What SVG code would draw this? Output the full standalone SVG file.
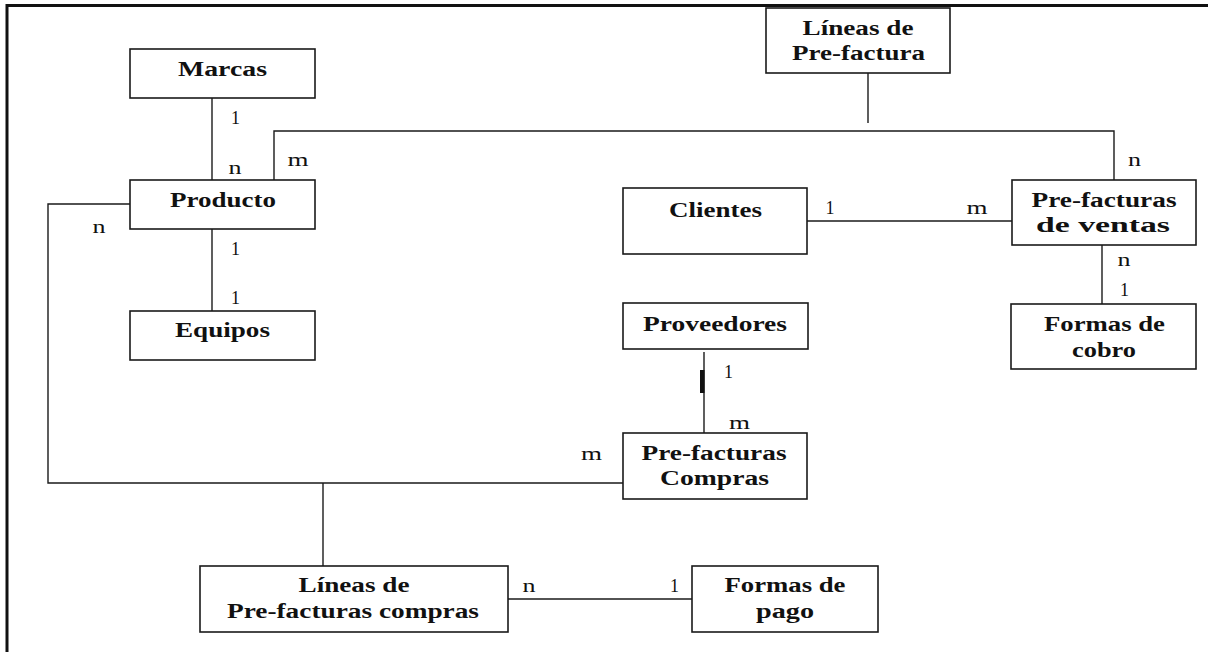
<svg xmlns="http://www.w3.org/2000/svg" width="1208" height="652" viewBox="0 0 1208 652">
<style>
.box{fill:#fff;stroke:#1a1a1a;stroke-width:1.6}
.t{font-family:"Liberation Serif","Times New Roman",serif;font-weight:bold;font-size:20px;fill:#111;text-anchor:middle}
.l{font-family:"Liberation Serif","Times New Roman",serif;font-size:19px;fill:#111}
.c{fill:none;stroke:#1a1a1a;stroke-width:1.4}
</style>
<rect width="1208" height="652" fill="#fff"/>
<g id="frame"><path d="M7,652 V5.5 H1208" fill="none" stroke="#111" stroke-width="3"/></g>
<g id="connectors">
<path class="c" d="M212,98 V180"/>
<path class="c" d="M212,229 V311"/>
<path class="c" d="M274,180 V131 H1114 V180"/>
<path class="c" d="M868,73 V123"/>
<path class="c" d="M130,204 H48 V483 H623"/>
<path class="c" d="M323,483 V566"/>
<path class="c" d="M508,599 H692"/>
<path class="c" d="M807,221 H1012"/>
<path class="c" d="M1102,245 V304"/>
<path class="c" d="M704,352 V433"/>
<rect x="700" y="370" width="4.5" height="23" fill="#111"/>
</g>
<g id="marcas"><rect class="box" x="130" y="49" width="185" height="49"/><text class="t" x="222.5" y="76" textLength="89" lengthAdjust="spacingAndGlyphs">Marcas</text></g>
<g id="producto"><rect class="box" x="130" y="180" width="185" height="49"/><text class="t" x="223" y="207" textLength="106" lengthAdjust="spacingAndGlyphs">Producto</text></g>
<g id="equipos"><rect class="box" x="130" y="311" width="185" height="49"/><text class="t" x="222.5" y="337" textLength="95" lengthAdjust="spacingAndGlyphs">Equipos</text></g>
<g id="lineas-prefactura"><rect class="box" x="766" y="8" width="184" height="65"/><text class="t" x="858" y="35" textLength="111" lengthAdjust="spacingAndGlyphs">Líneas de</text><text class="t" x="858.5" y="60" textLength="133" lengthAdjust="spacingAndGlyphs">Pre-factura</text></g>
<g id="clientes"><rect class="box" x="623" y="188" width="184" height="66"/><text class="t" x="715.5" y="217" textLength="93" lengthAdjust="spacingAndGlyphs">Clientes</text></g>
<g id="prefacturas-ventas"><rect class="box" x="1012" y="180" width="184" height="65"/><text class="t" x="1104" y="207" textLength="145" lengthAdjust="spacingAndGlyphs">Pre-facturas</text><text class="t" x="1103" y="232" textLength="134" lengthAdjust="spacingAndGlyphs">de ventas</text></g>
<g id="proveedores"><rect class="box" x="623" y="303" width="185" height="46"/><text class="t" x="715" y="331" textLength="144" lengthAdjust="spacingAndGlyphs">Proveedores</text></g>
<g id="formas-cobro"><rect class="box" x="1011" y="304" width="185" height="65"/><text class="t" x="1104.5" y="331" textLength="121" lengthAdjust="spacingAndGlyphs">Formas de</text><text class="t" x="1104" y="357" textLength="64" lengthAdjust="spacingAndGlyphs">cobro</text></g>
<g id="prefacturas-compras"><rect class="box" x="623" y="433" width="184" height="66"/><text class="t" x="714" y="460" textLength="145" lengthAdjust="spacingAndGlyphs">Pre-facturas</text><text class="t" x="714.5" y="485" textLength="109" lengthAdjust="spacingAndGlyphs">Compras</text></g>
<g id="lineas-prefacturas-compras"><rect class="box" x="200" y="566" width="308" height="66"/><text class="t" x="354" y="592" textLength="111" lengthAdjust="spacingAndGlyphs">Líneas de</text><text class="t" x="353" y="618" textLength="252" lengthAdjust="spacingAndGlyphs">Pre-facturas compras</text></g>
<g id="formas-pago"><rect class="box" x="692" y="566" width="186" height="66"/><text class="t" x="785" y="592" textLength="121" lengthAdjust="spacingAndGlyphs">Formas de</text><text class="t" x="785" y="618" textLength="58" lengthAdjust="spacingAndGlyphs">pago</text></g>
<g id="labels">
<text class="l" x="231" y="124" textLength="9" lengthAdjust="spacingAndGlyphs">1</text>
<text class="l" x="228.5" y="174" textLength="13" lengthAdjust="spacingAndGlyphs">n</text>
<text class="l" x="287.5" y="166" textLength="21" lengthAdjust="spacingAndGlyphs">m</text>
<text class="l" x="92.5" y="233" textLength="13" lengthAdjust="spacingAndGlyphs">n</text>
<text class="l" x="231" y="255" textLength="9" lengthAdjust="spacingAndGlyphs">1</text>
<text class="l" x="231" y="304" textLength="9" lengthAdjust="spacingAndGlyphs">1</text>
<text class="l" x="1128" y="166" textLength="13" lengthAdjust="spacingAndGlyphs">n</text>
<text class="l" x="825.5" y="214" textLength="9" lengthAdjust="spacingAndGlyphs">1</text>
<text class="l" x="966.5" y="214" textLength="21" lengthAdjust="spacingAndGlyphs">m</text>
<text class="l" x="1117.5" y="266" textLength="13" lengthAdjust="spacingAndGlyphs">n</text>
<text class="l" x="1120" y="296" textLength="9" lengthAdjust="spacingAndGlyphs">1</text>
<text class="l" x="724" y="378" textLength="9" lengthAdjust="spacingAndGlyphs">1</text>
<text class="l" x="729" y="429" textLength="21" lengthAdjust="spacingAndGlyphs">m</text>
<text class="l" x="581" y="460" textLength="21" lengthAdjust="spacingAndGlyphs">m</text>
<text class="l" x="522.5" y="592" textLength="13" lengthAdjust="spacingAndGlyphs">n</text>
<text class="l" x="670" y="592" textLength="9" lengthAdjust="spacingAndGlyphs">1</text>
</g>
</svg>
